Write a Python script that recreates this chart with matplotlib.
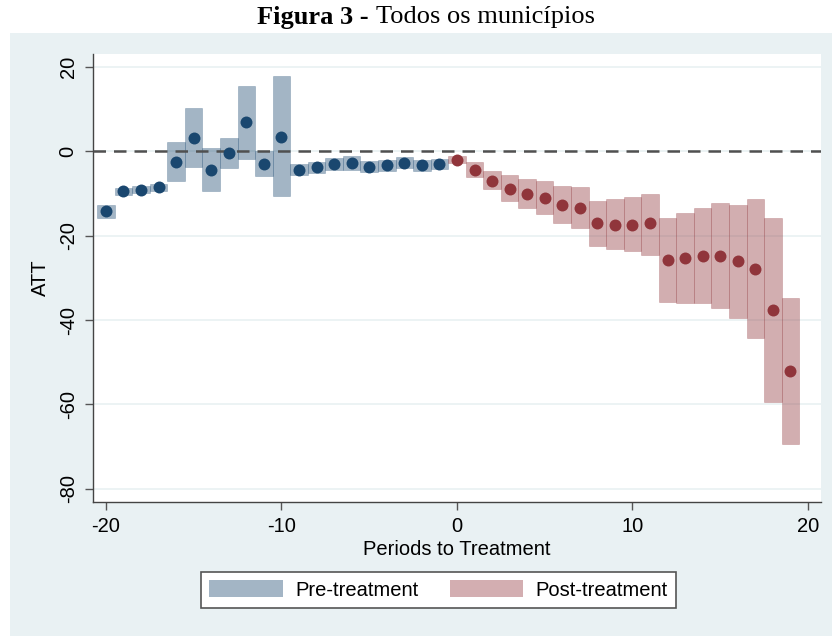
import matplotlib
matplotlib.use("Agg")
import matplotlib.pyplot as plt
from matplotlib.patches import Rectangle, Patch
import numpy as np

# ---- data ----
pre_periods = list(range(-20, 0))
pre_att = [-14.2, -9.5, -9.1, -8.5, -2.5, 3.2, -4.3, -0.4, 6.9, -3.1,
           3.5, -4.3, -3.7, -3.0, -2.7, -3.6, -3.3, -2.7, -3.3, -2.9]
pre_lo = [-15.8, -10.3, -9.9, -9.3, -7.0, -3.6, -9.4, -4.0, -1.7, -5.9,
          -10.6, -5.5, -5.0, -4.4, -4.4, -4.9, -4.6, -4.0, -4.6, -4.1]
pre_hi = [-12.7, -8.7, -8.3, -7.7, 2.2, 10.2, 0.9, 3.3, 15.5, 0.0,
          17.8, -3.1, -2.4, -1.6, -1.0, -2.3, -2.0, -1.4, -2.0, -1.7]

post_periods = list(range(0, 20))
post_att = [-2.0, -4.3, -6.9, -8.9, -10.0, -11.0, -12.7, -13.4, -17.0, -17.4,
            -17.4, -17.0, -25.7, -25.3, -24.9, -24.8, -25.9, -27.8, -37.6, -52.1]
post_lo = [-2.8, -6.0, -9.0, -11.8, -13.4, -14.8, -17.0, -18.2, -22.4, -23.2,
           -23.5, -24.5, -35.6, -35.9, -36.0, -37.2, -39.4, -44.3, -59.4, -69.4]
post_hi = [-1.2, -2.5, -4.7, -5.7, -6.5, -7.1, -8.3, -8.4, -11.8, -11.4,
           -10.9, -10.0, -15.8, -14.6, -13.4, -12.2, -12.6, -11.3, -15.8, -34.8]

x_ticks = [-20, -10, 0, 10, 20]
y_ticks = [-80, -60, -40, -20, 0, 20]
legend_labels = ["Pre-treatment", "Post-treatment"]

# ---- style ----
NAVY = "#1A476F"
MAROON = "#90353B"
PRE_FILL = "#A3B5C5"
POST_FILL = "#D3AEB1"
BG = "#E9F1F3"
GRID = "#EAF2F3"

plt.rcParams["font.family"] = ["Liberation Sans", "DejaVu Sans"]

fig = plt.figure(figsize=(8.32, 6.36), dpi=100)
fig.patch.set_facecolor("white")
bg = Rectangle((0.012, 0.0), 0.988, 0.948, transform=fig.transFigure,
               facecolor=BG, edgecolor="none", zorder=-10)
fig.patches.append(bg)

ax = fig.add_axes([0.1114, 0.2102, 0.8750, 0.7049])
ax.set_zorder(1)
ax.set_facecolor("white")

pre_lo_a = np.array(pre_lo); pre_hi_a = np.array(pre_hi)
post_lo_a = np.array(post_lo); post_hi_a = np.array(post_hi)

ax.bar(pre_periods, pre_hi_a - pre_lo_a, bottom=pre_lo_a, width=1.0,
       color=NAVY, alpha=0.4, edgecolor=NAVY, linewidth=0.4, zorder=2)
ax.bar(post_periods, post_hi_a - post_lo_a, bottom=post_lo_a, width=1.0,
       color=MAROON, alpha=0.4, edgecolor=MAROON, linewidth=0.4, zorder=2)

ax.axhline(0, color="#505050", lw=1.8, linestyle=(0, (5.0, 3.2)), zorder=3)

ax.plot(pre_periods, pre_att, "o", color=NAVY, ms=8.6, mew=0, zorder=4)
ax.plot(post_periods, post_att, "o", color=MAROON, ms=8.6, mew=0, zorder=4)

ax.set_xlim(-20.75, 20.72)
ax.set_ylim(-83.2, 23.1)
ax.set_xticks(x_ticks)
ax.set_yticks(y_ticks)
ax.set_xticklabels([str(t) for t in x_ticks])
ax.set_yticklabels([str(t) for t in y_ticks], rotation=90, va="center")

for y in y_ticks:
    ax.axhline(y, color=GRID, lw=1.3, zorder=1)

for s in ["top", "right"]:
    ax.spines[s].set_visible(False)
for s in ["left", "bottom"]:
    ax.spines[s].set_color("#444444")
    ax.spines[s].set_linewidth(1.0)

ax.tick_params(axis="both", direction="out", length=5.8, width=1.0, color="#555555",
               labelsize=14.5, pad=5, labelcolor="black")

ax.set_xlabel("Periods to Treatment", fontsize=14.5, labelpad=3)
ax.set_ylabel("ATT", fontsize=14.5, labelpad=6)

handles = [Patch(facecolor=PRE_FILL, edgecolor="none"),
           Patch(facecolor=POST_FILL, edgecolor="none")]
leg = fig.legend(handles, legend_labels, loc="center", bbox_to_anchor=(0.527, 0.0723),
                 ncol=2, fontsize=14.5, frameon=True, fancybox=False,
                 handlelength=3.65, handleheight=0.93, handletextpad=0.62,
                 columnspacing=1.55, borderpad=0.4)
leg.get_frame().set_edgecolor("#555555")
leg.get_frame().set_linewidth(1.2)
leg.get_frame().set_facecolor("white")
leg.get_frame().set_alpha(1)

# Title: bold part + regular part
fig.text(0.4435, 0.973, "Figura 3 -", ha="right", va="center",
         fontsize=19, fontweight="bold", family=["Liberation Serif", "DejaVu Serif"])
fig.text(0.4515, 0.973, "Todos os municípios", ha="left", va="center",
         fontsize=19, family=["Liberation Serif", "DejaVu Serif"])

fig.savefig("out.png", dpi=100, facecolor=fig.get_facecolor())
